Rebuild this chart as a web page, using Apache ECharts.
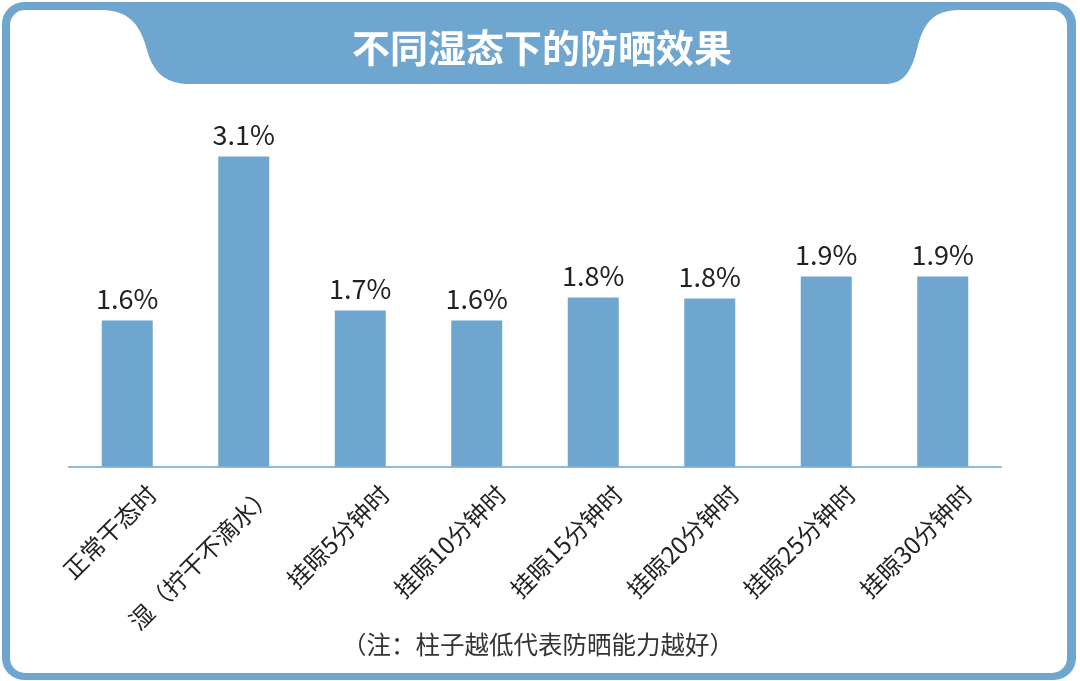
<!DOCTYPE html>
<html>
<head>
<meta charset="utf-8">
<script src="https://cdn.jsdelivr.net/npm/echarts@6/dist/echarts.min.js"></script>
<style>html,body{margin:0;padding:0;background:#fff;}#c{width:1080px;height:681px;}</style>
</head>
<body>
<div id="c"></div>
<script>
var titleText = '不同湿态下的防晒效果';
var noteText = '（注：柱子越低代表防晒能力越好）';
var categories = ['正常干态时', '湿（拧干不滴水）', '挂晾5分钟时', '挂晾10分钟时', '挂晾15分钟时', '挂晾20分钟时', '挂晾25分钟时', '挂晾30分钟时'];
// bar heights
var barValues = [1.46, 3.10, 1.56, 1.46, 1.69, 1.68, 1.90, 1.90];
// value labels as printed in the picture
var valueLabels = ['1.6%', '3.1%', '1.7%', '1.6%', '1.8%', '1.8%', '1.9%', '1.9%'];

var BLUE = '#6fa6cf';
var FONT = 'Noto Sans CJK SC';

// decorative title tab outline (cubic bezier segments sampled into a polygon)
function bez(p0, p1, p2, p3, n, out) {
  for (var i = 0; i <= n; i++) {
    var t = i / n, u = 1 - t;
    out.push([
      u*u*u*p0[0] + 3*u*u*t*p1[0] + 3*u*t*t*p2[0] + t*t*t*p3[0],
      u*u*u*p0[1] + 3*u*u*t*p1[1] + 3*u*t*t*p2[1] + t*t*t*p3[1]
    ]);
  }
}
var tab = [[95, 6], [100, 10]];
bez([100, 10], [130, 10], [140, 25], [147, 50], 20, tab);
bez([147, 50], [153, 72], [165, 84], [190, 84], 20, tab);
bez([885, 84], [905, 84], [912, 70], [918, 45], 20, tab);
bez([918, 45], [925, 20], [935, 10], [962, 10], 20, tab);
tab.push([965, 6]);

var chart = echarts.init(document.getElementById('c'), null, {renderer: 'canvas'});
chart.setOption({
  backgroundColor: '#fff',
  animation: false,
  textStyle: {fontFamily: FONT},
  graphic: [
    {type: 'rect', z: -10, shape: {x: 2, y: 2, width: 1074, height: 678, r: 22}, style: {fill: BLUE}},
    {type: 'rect', z: -9, shape: {x: 10, y: 10, width: 1057, height: 663, r: 15}, style: {fill: '#fff'}},
    {type: 'polygon', z: -8, shape: {points: tab}, style: {fill: BLUE}},
    {type: 'text', z: 10, x: 542, y: 48, style: {text: titleText, fill: '#fff', font: 'bold 38px "Noto Sans CJK SC"', align: 'center', verticalAlign: 'middle'}},
    {type: 'text', z: 10, x: 538, y: 645, style: {text: noteText, fill: '#333', font: '24.5px "Noto Sans CJK SC"', align: 'center', verticalAlign: 'middle'}}
  ],
  grid: [
    {left: 69, right: 79, top: 116.5, bottom: 214.5},
    {left: 94, right: 54, top: 116.5, bottom: 214.5}
  ],
  xAxis: [
    {type: 'category', gridIndex: 0, data: categories,
     axisLine: {show: true, lineStyle: {color: '#8fbadc', width: 2}},
     axisTick: {show: false}, axisLabel: {show: false}},
    {type: 'category', gridIndex: 1, data: categories,
     axisLine: {show: false}, axisTick: {show: false},
     axisLabel: {show: true, rotate: 45, interval: 0, margin: 23, color: '#222', fontSize: 24, fontFamily: FONT}}
  ],
  yAxis: [
    {type: 'value', gridIndex: 0, min: 0, max: 3.5, show: false, splitLine: {show: false}},
    {type: 'value', gridIndex: 1, min: 0, max: 3.5, show: false, splitLine: {show: false}}
  ],
  series: [{
    type: 'bar', xAxisIndex: 0, yAxisIndex: 0,
    data: barValues, barWidth: 51,
    itemStyle: {color: BLUE},
    label: {show: true, position: 'top', distance: 8, color: '#222', fontSize: 27, fontFamily: FONT,
      formatter: function (p) { return valueLabels[p.dataIndex]; }}
  }]
});
</script>
</body>
</html>
